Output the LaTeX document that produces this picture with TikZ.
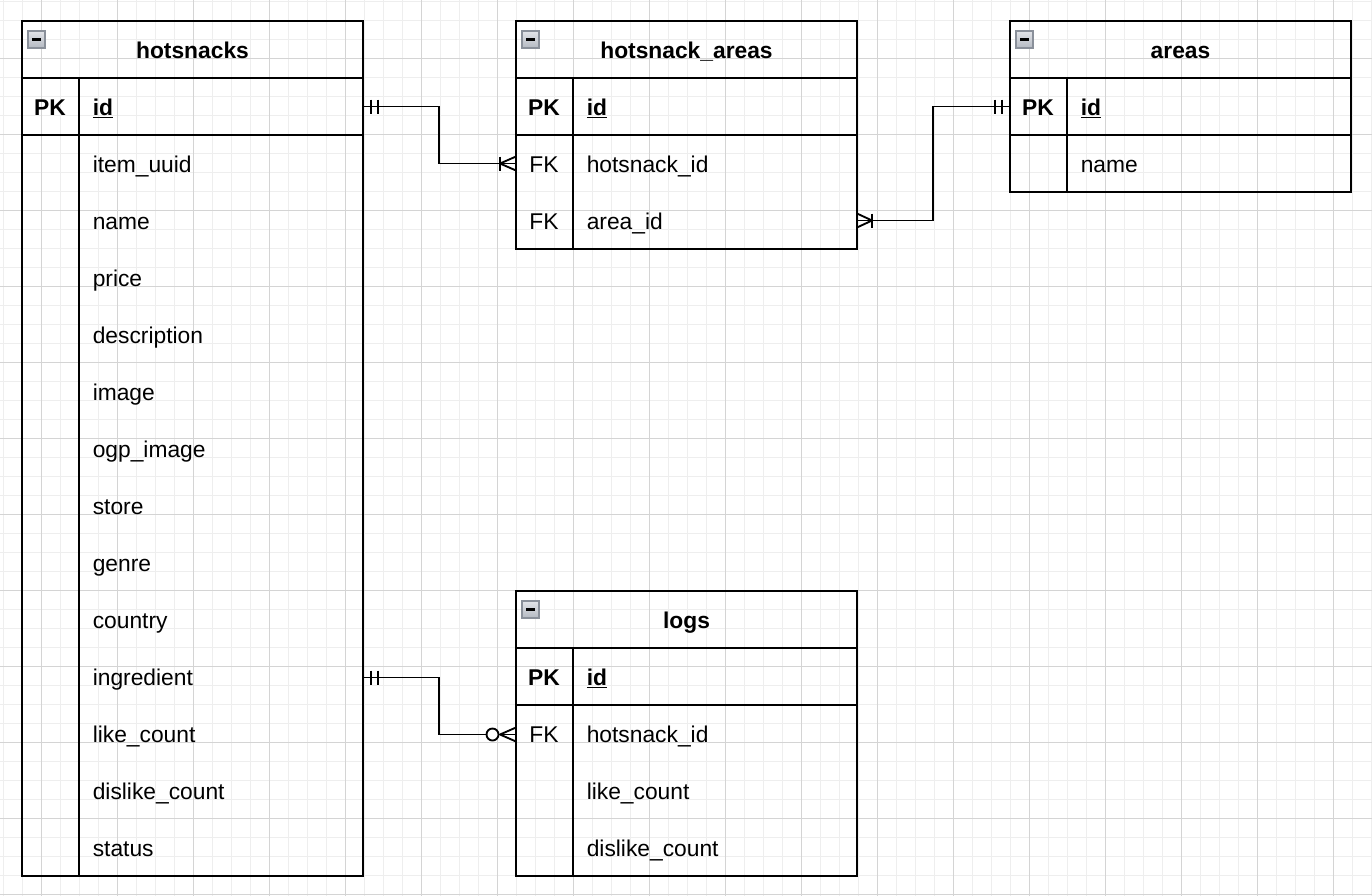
\documentclass[tikz,border=0pt]{standalone}
\usepackage{fontspec}
\usetikzlibrary{calc}
\setmainfont{Liberation Sans}
\begin{document}
\begin{tikzpicture}[x=0.75pt,y=-0.75pt,
  tbl/.style={draw=black, line width=1.4pt},
  conn/.style={draw=black, line width=1.4pt},
  ttl/.style={anchor=base, inner sep=0, font=\fontsize{17.1}{20}\selectfont\bfseries},
  keyb/.style={anchor=base, inner sep=0, font=\fontsize{17.1}{20}\selectfont\bfseries},
  keyn/.style={anchor=base, inner sep=0, font=\fontsize{17.1}{20}\selectfont},
  attrb/.style={anchor=base west, inner sep=0, font=\fontsize{17.1}{20}\selectfont\bfseries},
  attr/.style={anchor=base west, inner sep=0, font=\fontsize{17.1}{20}\selectfont},
  minorgrid/.style={draw={rgb,255:red,238;green,238;blue,238}, line width=0.75pt},
  majorgrid/.style={draw={rgb,255:red,212;green,212;blue,212}, line width=0.75pt},
  iconbox/.style={draw={rgb,255:red,138;green,144;blue,154}, line width=0.9pt, top color={rgb,255:red,226;green,228;blue,232}, bottom color={rgb,255:red,180;green,185;blue,194}},
  iconbar/.style={draw=black, line width=2pt}
]
\fill[white] (0,0) rectangle (1372,896);
\useasboundingbox (0,0) rectangle (1372,896);
% grid
\foreach \x in {3,22,...,1372} \draw[minorgrid] (\x,0) -- (\x,896);
\foreach \y in {1,20,...,896} \draw[minorgrid] (0,\y) -- (1372,\y);
\foreach \x in {41,117,...,1372} \draw[majorgrid] (\x,0) -- (\x,896);
\foreach \y in {58,134,...,896} \draw[majorgrid] (0,\y) -- (1372,\y);

% ---------- hotsnacks ----------
\draw[tbl] (22,21) rectangle (363,876);
\draw[tbl] (22,78) -- (363,78);
\draw[tbl] (22,135) -- (363,135);
\draw[tbl] (79,78) -- (79,876);
\shade[iconbox] (28,31) rectangle (45,48);
\draw[iconbar] (32,39.5) -- (41,39.5);
\node[ttl] (hs-title) at (192.5,58) {hotsnacks};
\node[keyb] (hs-pk) at (50,115) {PK};
\node[attrb] (hs-id) at (92.5,115) {\underline{id}};
\foreach \i/\t in {0/item\_uuid,1/name,2/price,3/description,4/image,5/ogp\_image,6/store,7/genre,8/country,9/ingredient,10/like\_count,11/dislike\_count,12/status}
  \node[attr] (hs-r\i) at (92.5,{172+57*\i}) {\t};

% ---------- hotsnack_areas ----------
\draw[tbl] (516,21) rectangle (857,249);
\draw[tbl] (516,78) -- (857,78);
\draw[tbl] (516,135) -- (857,135);
\draw[tbl] (573,78) -- (573,249);
\shade[iconbox] (522,31) rectangle (539,48);
\draw[iconbar] (526,39.5) -- (535,39.5);
\node[ttl] (ha-title) at (686.5,58) {hotsnack\_areas};
\node[keyb] (ha-pk) at (544,115) {PK};
\node[attrb] (ha-id) at (586.5,115) {\underline{id}};
\node[keyn] (ha-fk1) at (544,172) {FK};
\node[attr] (ha-r0) at (586.5,172) {hotsnack\_id};
\node[keyn] (ha-fk2) at (544,229) {FK};
\node[attr] (ha-r1) at (586.5,229) {area\_id};

% ---------- areas ----------
\draw[tbl] (1010,21) rectangle (1351,192);
\draw[tbl] (1010,78) -- (1351,78);
\draw[tbl] (1010,135) -- (1351,135);
\draw[tbl] (1067,78) -- (1067,192);
\shade[iconbox] (1016,31) rectangle (1033,48);
\draw[iconbar] (1020,39.5) -- (1029,39.5);
\node[ttl] (ar-title) at (1180.5,58) {areas};
\node[keyb] (ar-pk) at (1038,115) {PK};
\node[attrb] (ar-id) at (1080.5,115) {\underline{id}};
\node[attr] (ar-r0) at (1080.5,172) {name};

% ---------- logs ----------
\draw[tbl] (516,591) rectangle (857,876);
\draw[tbl] (516,648) -- (857,648);
\draw[tbl] (516,705) -- (857,705);
\draw[tbl] (573,648) -- (573,876);
\shade[iconbox] (522,601) rectangle (539,618);
\draw[iconbar] (526,609.5) -- (535,609.5);
\node[ttl] (lg-title) at (686.5,628) {logs};
\node[keyb] (lg-pk) at (544,685) {PK};
\node[attrb] (lg-id) at (586.5,685) {\underline{id}};
\node[keyn] (lg-fk1) at (544,742) {FK};
\node[attr] (lg-r0) at (586.5,742) {hotsnack\_id};
\node[attr] (lg-r1) at (586.5,799) {like\_count};
\node[attr] (lg-r2) at (586.5,856) {dislike\_count};

% ---------- connector endpoints ----------
\coordinate (hs-idR) at (363,106.5);
\coordinate (hs-ingR) at (363,677.5);
\coordinate (ha-hsL) at (516,163.5);
\coordinate (ha-arR) at (857,220.5);
\coordinate (ar-idL) at (1010,106.5);
\coordinate (lg-hsL) at (516,734.5);

% hotsnacks.id -> hotsnack_areas.hotsnack_id
\draw[conn] (hs-idR) -- ++(76,0) |- (ha-hsL);
\draw[conn] (hs-idR) ++(8,-7) -- ++(0,14);
\draw[conn] (hs-idR) ++(15,-7) -- ++(0,14);
\draw[conn] (ha-hsL) ++(-16,-7) -- ++(0,14);
\draw[conn] (ha-hsL) ++(-16,0) -- ++(16,-7);
\draw[conn] (ha-hsL) ++(-16,0) -- ++(16,7);

% hotsnack_areas.area_id -> areas.id
\draw[conn] (ha-arR) -- ++(76,0) |- (ar-idL);
\draw[conn] (ha-arR) ++(15,-7) -- ++(0,14);
\draw[conn] (ha-arR) ++(15,0) -- ++(-15,-7);
\draw[conn] (ha-arR) ++(15,0) -- ++(-15,7);
\draw[conn] (ar-idL) ++(-8,-7) -- ++(0,14);
\draw[conn] (ar-idL) ++(-15,-7) -- ++(0,14);

% hotsnacks.ingredient -> logs.hotsnack_id
\draw[conn] (hs-ingR) -- ++(76,0) |- ($(lg-hsL)+(-29.5,0)$);
\draw[conn] (hs-ingR) ++(8,-7) -- ++(0,14);
\draw[conn] (hs-ingR) ++(15,-7) -- ++(0,14);
\draw[conn, fill=white] (lg-hsL) ++(-23.5,0) circle[radius=4.5pt];
\draw[conn] (lg-hsL) ++(-16,0) -- ++(16,-7);
\draw[conn] (lg-hsL) ++(-16,0) -- ++(16,7);
\draw[conn] (lg-hsL) ++(-17,0) -- ++(17,0);
\end{tikzpicture}
\end{document}
